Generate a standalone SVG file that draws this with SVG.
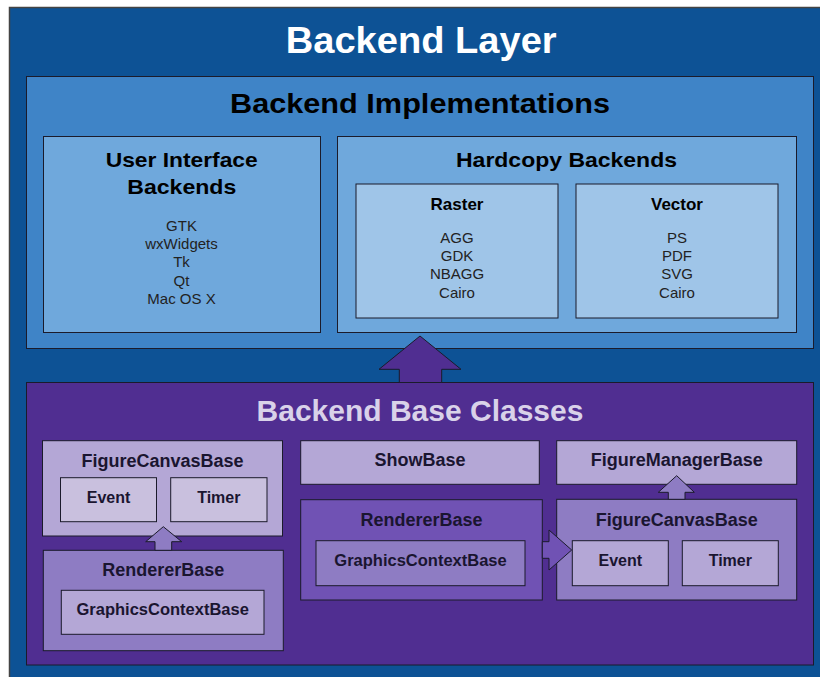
<svg xmlns="http://www.w3.org/2000/svg" width="820" height="677" viewBox="0 0 820 677">
<style>
text{font-family:"Liberation Sans",Arial,sans-serif}
.b{stroke:#1b1b2b;stroke-width:1}
.t{font-weight:bold;text-anchor:middle}
.up{fill:#000;text-anchor:middle}
.item{font-size:15px;fill:#222;text-anchor:middle}
.lo{fill:#1a1530;font-weight:bold;text-anchor:middle}
.conn{stroke:#1b1b2b;stroke-width:1;stroke-linejoin:miter}
</style>
<rect width="820" height="677" fill="#ffffff"/>
<g id="backend-layer">
<rect x="9.5" y="7.5" width="830" height="700" fill="#0d5295" stroke="#444" stroke-width="1.5"/>
<text x="285.7" y="52.7" font-size="36" font-weight="bold" fill="#ffffff" textLength="271" lengthAdjust="spacingAndGlyphs">Backend Layer</text>
</g>
<g id="backend-implementations">
<rect class="b" x="26.5" y="76.5" width="787" height="272" fill="#3f84c7"/>
<text x="230" y="113.3" font-size="28" font-weight="bold" fill="#000" textLength="380" lengthAdjust="spacingAndGlyphs">Backend Implementations</text>
</g>
<g id="ui-backends">
<rect class="b" x="43.5" y="136.5" width="277" height="196" fill="#6fa8dc"/>
<text x="105.7" y="166.7" font-size="21" font-weight="bold" textLength="152" lengthAdjust="spacingAndGlyphs">User Interface</text>
<text x="127.3" y="194.3" font-size="21" font-weight="bold" textLength="109" lengthAdjust="spacingAndGlyphs">Backends</text>
<text class="item" x="181.5" y="230.7">GTK</text>
<text class="item" x="181.5" y="249">wxWidgets</text>
<text class="item" x="181.5" y="267.3">Tk</text>
<text class="item" x="181.5" y="285.7">Qt</text>
<text class="item" x="181.5" y="304">Mac OS X</text>
</g>
<g id="hardcopy-backends">
<rect class="b" x="337.5" y="136.5" width="459" height="196" fill="#6fa8dc"/>
<text x="456" y="166.7" font-size="21" font-weight="bold" textLength="221" lengthAdjust="spacingAndGlyphs">Hardcopy Backends</text>
</g>
<g id="raster">
<rect class="b" x="356" y="184" width="202" height="134" fill="#9fc5e8"/>
<text class="t" x="457" y="210" font-size="17">Raster</text>
<text class="item" x="457" y="242.7">AGG</text>
<text class="item" x="457" y="261">GDK</text>
<text class="item" x="457" y="279.3">NBAGG</text>
<text class="item" x="457" y="297.7">Cairo</text>
</g>
<g id="vector">
<rect class="b" x="576" y="184" width="202" height="134" fill="#9fc5e8"/>
<text class="t" x="677" y="210" font-size="17">Vector</text>
<text class="item" x="677" y="242.7">PS</text>
<text class="item" x="677" y="261">PDF</text>
<text class="item" x="677" y="279.3">SVG</text>
<text class="item" x="677" y="297.7">Cairo</text>
</g>
<g id="backend-base-classes">
<rect class="b" x="26.5" y="382.5" width="787" height="282.5" fill="#502e91"/>
<text x="420" y="420.7" font-size="30" font-weight="bold" fill="#d9d2e9" text-anchor="middle">Backend Base Classes</text>
</g>
<g id="connectors">
<polygon class="conn" fill="#502e91" points="420,336 461,369.3 441.7,369.3 441.7,382.5 399.3,382.5 399.3,369.3 379,369.3"/>
</g>
<g id="figurecanvasbase-left">
<rect class="b" x="42.5" y="440.7" width="240" height="95.3" fill="#b4a7d6"/>
<text class="lo" x="162.5" y="466.7" font-size="18">FigureCanvasBase</text>
<rect class="b" x="60.5" y="477.7" width="96" height="44" fill="#c9c0de"/>
<text class="lo" x="108.5" y="502.7" font-size="16">Event</text>
<rect class="b" x="170.7" y="477.7" width="96.3" height="44" fill="#c9c0de"/>
<text class="lo" x="218.8" y="502.7" font-size="16">Timer</text>
</g>
<g id="rendererbase-left">
<rect class="b" x="43.3" y="550.3" width="240" height="100.4" fill="#8e7cc3"/>
<text class="lo" x="163.3" y="576" font-size="18">RendererBase</text>
<rect class="b" x="61.3" y="590.3" width="202.7" height="44" fill="#b4a7d6"/>
<text class="lo" x="162.7" y="615" font-size="16.5">GraphicsContextBase</text>
</g>
<g id="showbase">
<rect class="b" x="300.7" y="440.7" width="238.6" height="43.6" fill="#b4a7d6"/>
<text class="lo" x="420" y="466" font-size="18">ShowBase</text>
</g>
<g id="rendererbase-mid">
<rect class="b" x="300.7" y="499.7" width="241.6" height="100.3" fill="#7052b4"/>
<text class="lo" x="421.5" y="526" font-size="18">RendererBase</text>
<rect class="b" x="316" y="540.7" width="209" height="45" fill="#8e7cc3"/>
<text class="lo" x="420.5" y="566" font-size="16.5">GraphicsContextBase</text>
</g>
<g id="figuremanagerbase">
<rect class="b" x="556.7" y="440.7" width="240" height="43.6" fill="#b4a7d6"/>
<text class="lo" x="676.7" y="466" font-size="18">FigureManagerBase</text>
</g>
<g id="figurecanvasbase-right">
<rect class="b" x="556.7" y="499.3" width="240" height="100.7" fill="#8e7cc3"/>
<text class="lo" x="676.7" y="526" font-size="18">FigureCanvasBase</text>
<rect class="b" x="572.3" y="540.7" width="96" height="45" fill="#b4a7d6"/>
<text class="lo" x="620.3" y="566" font-size="16">Event</text>
<rect class="b" x="682.3" y="540.7" width="96" height="45" fill="#b4a7d6"/>
<text class="lo" x="730.3" y="566" font-size="16">Timer</text>
</g>
<g id="connectors-inner">
<polygon class="conn" fill="#8e7cc3" points="163.3,526.7 181.7,541.7 171.7,541.7 171.7,550.3 155,550.3 155,541.7 145.7,541.7"/>
<polygon class="conn" fill="#8e7cc3" points="676.7,475.7 694.3,492.3 685,492.3 685,499.3 668.3,499.3 668.3,492.3 658.3,492.3"/>
<polygon class="conn" fill="#7052b4" points="571.7,550 549,530 549,541.7 542.3,541.7 542.3,558.3 549,558.3 549,570"/>
</g>
</svg>
